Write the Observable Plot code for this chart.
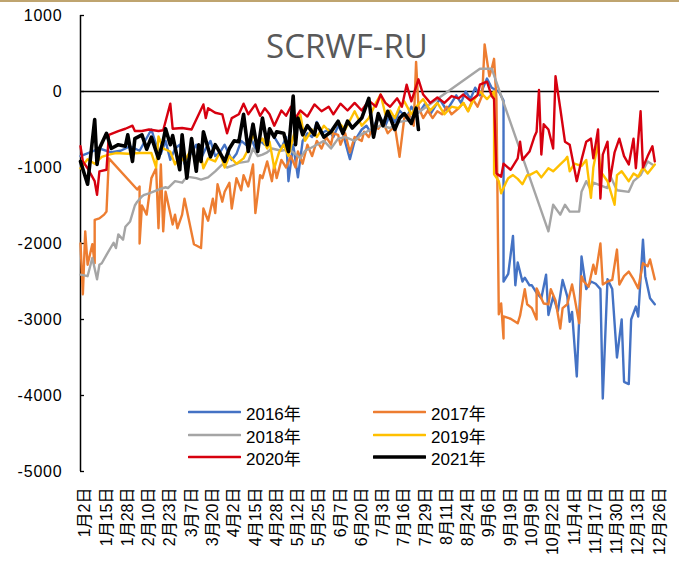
<!DOCTYPE html>
<html>
<head>
<meta charset="utf-8">
<script src="https://cdn.jsdelivr.net/npm/d3@7"></script>
<script src="https://cdn.jsdelivr.net/npm/@observablehq/plot@0.6"></script>
<style>
  html, body { margin: 0; padding: 0; background: #fff; }
  #wrap { position: relative; width: 679px; height: 561px; overflow: hidden; border-top: 2px solid #BFA46F; box-sizing: border-box; }
  #chart { position: absolute; left: 0; top: -2px; }
  #title { position: absolute; left: 0; width: 694px; top: 27px; text-align: center; font-family: "Open Sans", sans-serif; font-size: 33px; line-height: 33px; color: #595959; }
  .leg { position: absolute; height: 20px; display: flex; align-items: center; font-family: "Liberation Sans", "Noto Sans CJK SC", sans-serif; font-size: 17px; color: #000; white-space: nowrap; }
  .leg svg { margin-right: 5px; }
  [aria-label="y-axis tick label"] text { letter-spacing: 0.8px; }
</style>
</head>
<body>
<div id="wrap">
  <div id="chart"></div>
  <div id="title"></div>
  <div id="legend"></div>
</div>
<script>
const chartTitle = "SCRWF-RU";
const years = ["2016年", "2017年", "2018年", "2019年", "2020年", "2021年"];
const colors = ["#4472C4", "#ED7D31", "#A5A5A5", "#FFC000", "#D7000F", "#000000"];
const xLabels = ["1月2日","1月15日","1月28日","2月10日","2月23日","3月7日","3月20日","4月2日","4月15日","4月28日","5月12日","5月25日","6月7日","6月20日","7月3日","7月16日","7月29日","8月11日","8月24日","9月6日","9月19日","10月9日","10月22日","11月4日","11月17日","11月30日","12月13日","12月26日"];
const xLabelIdx = [2,11,20,29,38,47,56,65,74,83,92,101,110,119,128,137,146,155,164,173,182,191,200,209,218,227,236,245];
const yTicks = [1000, 0, -1000, -2000, -3000, -4000, -5000];

// [trading-day index, value]
const s2016 = [[0,-850],[4,-800],[8,-750],[13,-800],[17,-780],[21,-720],[25,-780],[30,-500],[32,-700],[34,-820],[36,-650],[38,-900],[40,-750],[42,-700],[44,-950],[47,-800],[49,-700],[51,-880],[53,-750],[55,-650],[57,-850],[59,-800],[61,-700],[64,-900],[66,-820],[68,-650],[70,-700],[72,-600],[74,-750],[76,-650],[78,-700],[80,-500],[83,-650],[85,-750],[87,-600],[88,-1180],[90,-700],[92,-1130],[94,-650],[96,-550],[98,-600],[100,-400],[102,-550],[105,-500],[107,-600],[109,-450],[111,-550],[114,-890],[116,-650],[119,-500],[121,-450],[123,-550],[125,-400],[127,-350],[129,-450],[131,-300],[133,-400],[135,-250],[138,-350],[140,-200],[142,-300],[144,-250],[146,-150],[148,-300],[150,-200],[152,-100],[155,-250],[157,-150],[159,-50],[161,-150],[163,0],[165,-100],[167,50],[169,-50],[172,170],[174,50],[177,0],[179,-120],[179,-2500],[181,-2400],[183,-1900],[184,-2550],[185,-2250],[187,-2500],[188,-2450],[190,-2550],[191,-2550],[193,-2650],[195,-2720],[197,-2410],[198,-2940],[200,-2700],[202,-2890],[204,-2480],[206,-2700],[207,-3030],[208,-2900],[210,-3750],[211,-3000],[212,-2170],[214,-2600],[216,-2500],[218,-2530],[220,-2600],[221,-4040],[223,-2470],[225,-2600],[227,-3500],[229,-3000],[230,-3820],[232,-3850],[233,-3000],[235,-2830],[236,-2960],[238,-1950],[239,-2430],[241,-2720],[243,-2800]];
const s2017 = [[0,-2000],[1,-2670],[2,-1840],[3,-2280],[5,-2010],[6,-2260],[6,-1690],[8,-1670],[10,-1620],[11,-1580],[12,-880],[24,-1290],[25,-1250],[25,-2000],[26,-1500],[28,-1620],[30,-1140],[32,-1010],[33,-1800],[34,-960],[35,-1840],[36,-1320],[39,-1750],[40,-1620],[41,-1800],[43,-1620],[44,-1410],[46,-1710],[48,-2010],[51,-2060],[52,-1540],[54,-1700],[56,-1410],[57,-1600],[58,-1220],[60,-1450],[61,-1320],[63,-1200],[64,-1540],[66,-1140],[68,-1300],[69,-1100],[71,-1250],[73,-960],[74,-1600],[76,-1100],[77,-1140],[79,-920],[81,-1180],[82,-960],[83,-1140],[85,-900],[87,-1000],[89,-850],[91,-1000],[92,-790],[94,-950],[96,-700],[98,-850],[100,-650],[102,-750],[104,-600],[106,-700],[107,-550],[109,-570],[110,-700],[112,-550],[114,-800],[116,-600],[119,-650],[120,-530],[122,-600],[124,-450],[126,-490],[128,-400],[130,-550],[133,-450],[135,-860],[137,-350],[139,-300],[141,-450],[142,390],[143,-200],[145,-350],[147,-250],[149,-350],[151,-260],[153,-300],[155,-200],[157,-300],[160,-220],[162,-150],[164,-260],[166,-100],[168,-200],[170,-50],[171,620],[173,200],[174,300],[175,430],[176,-100],[177,-2930],[178,-2790],[179,-3250],[179,-2960],[182,-2990],[185,-3050],[186,-2950],[188,-2600],[189,-2800],[191,-2850],[193,-3000],[193,-2590],[196,-2790],[198,-2800],[199,-2600],[201,-2750],[203,-3120],[204,-2850],[206,-2800],[208,-2540],[209,-2700],[211,-3050],[212,-2430],[213,-2500],[215,-2570],[217,-2280],[218,-2400],[220,-2000],[221,-2540],[223,-2500],[225,-2480],[227,-2080],[228,-2540],[230,-2430],[232,-2370],[234,-2470],[236,-2590],[238,-2260],[240,-2300],[241,-2210],[243,-2470]];
const s2018 = [[0,-2410],[3,-2430],[5,-2190],[7,-2470],[8,-2280],[9,-2260],[11,-2150],[14,-1990],[15,-2060],[16,-1880],[18,-1950],[19,-1780],[21,-1710],[23,-1500],[24,-1450],[26,-1380],[27,-1360],[29,-1340],[33,-1290],[36,-1260],[37,-1270],[40,-1180],[43,-1200],[45,-1120],[49,-1140],[51,-1160],[54,-1130],[57,-1050],[60,-960],[62,-1000],[64,-980],[67,-940],[71,-920],[73,-750],[75,-850],[77,-830],[79,-800],[81,-750],[85,-780],[88,-760],[90,-800],[93,-880],[95,-780],[97,-750],[100,-700],[103,-650],[106,-750],[109,-620],[112,-600],[116,-650],[119,-560],[123,-500],[127,-450],[131,-480],[135,-400],[139,-380],[141,-320],[169,300],[174,300],[198,-1840],[200,-1490],[203,-1620],[205,-1490],[207,-1580],[211,-1580],[212,-1320],[214,-1180],[216,-1300],[217,-1200],[223,-1270],[224,-1100],[227,-1300],[232,-1320],[234,-1180],[237,-1100],[240,-920],[242,-960]];
const s2019 = [[0,-1010],[3,-890],[6,-950],[9,-860],[12,-830],[15,-810],[20,-820],[25,-810],[30,-810],[32,-1000],[33,-590],[35,-750],[38,-790],[40,-960],[42,-850],[44,-920],[47,-750],[49,-960],[51,-850],[52,-1010],[54,-880],[57,-920],[59,-800],[61,-1000],[63,-850],[66,-950],[69,-880],[71,-760],[73,-570],[75,-700],[77,-620],[79,-750],[80,-660],[82,-1010],[84,-800],[86,-700],[88,-850],[90,-600],[93,-300],[95,-650],[98,-500],[100,-600],[103,-450],[106,-550],[109,-400],[112,-500],[116,-260],[119,-450],[122,-350],[125,-150],[127,-40],[129,-300],[131,-250],[133,-350],[135,-200],[137,-130],[140,-300],[142,-200],[145,-100],[148,-250],[151,-150],[154,-300],[157,-200],[160,-220],[162,-150],[164,-260],[166,-130],[169,0],[172,-100],[175,0],[175,-1090],[177,-1180],[178,-1340],[180,-1200],[181,-1140],[183,-1100],[185,-1150],[187,-1220],[189,-1100],[190,-1100],[193,-1050],[195,-1130],[198,-1010],[200,-1050],[203,-960],[205,-900],[206,-860],[207,-1050],[209,-950],[212,-980],[214,-900],[216,-1400],[217,-1000],[219,-680],[220,-1050],[223,-1180],[226,-1490],[227,-1100],[229,-1050],[232,-1180],[234,-1080],[236,-1120],[238,-1000],[240,-1080],[242,-1000],[243,-960]];
const s2020 = [[0,-720],[1,-920],[3,-1010],[6,-1180],[7,-1360],[8,-1050],[11,-1030],[12,-570],[16,-520],[19,-490],[22,-450],[23,-520],[26,-520],[29,-500],[33,-520],[35,-510],[38,-160],[39,-490],[43,-480],[47,-500],[52,-170],[53,-350],[54,-220],[57,-280],[60,-300],[62,-550],[64,-350],[67,-300],[69,-160],[71,-300],[74,-170],[76,-320],[78,-220],[80,-300],[82,-450],[85,-250],[87,-320],[89,-200],[91,-350],[93,-250],[96,-330],[99,-170],[102,-260],[105,-200],[107,-300],[110,-160],[113,-250],[116,-150],[119,-250],[122,-120],[125,-200],[127,-40],[129,-150],[131,-200],[134,-90],[136,-200],[138,90],[140,-130],[143,160],[145,-40],[148,-150],[151,-80],[154,-150],[157,-60],[160,-90],[162,-40],[165,-120],[168,-50],[169,90],[172,130],[174,-60],[175,-100],[176,-1080],[178,-1120],[179,-950],[182,-1030],[185,-880],[186,-660],[187,-900],[190,-790],[192,-600],[193,-530],[194,20],[195,-830],[196,-430],[198,-500],[200,-750],[201,200],[203,-220],[205,-660],[207,-700],[210,-1180],[212,-900],[214,-660],[216,-620],[217,-880],[219,-500],[220,-1410],[221,-830],[223,-660],[224,-1180],[226,-800],[228,-620],[230,-850],[232,-960],[234,-620],[235,-1010],[237,-260],[238,-1000],[240,-850],[242,-720],[243,-920]];
const s2021 = [[0,-920],[3,-1220],[6,-370],[7,-960],[8,-750],[11,-550],[13,-750],[16,-700],[19,-720],[20,-570],[22,-920],[23,-620],[26,-570],[28,-760],[30,-600],[33,-880],[35,-650],[36,-490],[38,-700],[39,-580],[42,-1030],[43,-570],[45,-1140],[47,-620],[49,-1050],[50,-700],[51,-920],[52,-530],[55,-860],[57,-700],[58,-750],[61,-920],[63,-750],[65,-650],[67,-660],[69,-300],[71,-790],[73,-430],[75,-790],[77,-350],[79,-700],[80,-490],[82,-600],[83,-530],[86,-550],[88,-790],[90,-60],[91,-700],[92,-350],[94,-570],[96,-450],[99,-570],[100,-420],[103,-600],[106,-530],[109,-390],[111,-550],[113,-390],[115,-480],[119,-350],[122,-90],[124,-600],[126,-290],[128,-450],[130,-260],[133,-500],[135,-350],[137,-290],[140,-420],[142,-220],[143,-500]];

const series = [s2016, s2017, s2018, s2019, s2020, s2021];
const widths = [2.4, 2.4, 2.4, 2.4, 2.4, 3.6];
const table = years.flatMap((yr, k) => series[k].map(([x, v]) => ({year: yr, x, v})));
const labelOf = new Map(xLabelIdx.map((d, i) => [d, xLabels[i]]));

const fontStack = "'Liberation Sans', Arial, 'Noto Sans CJK SC', sans-serif";

const chart = Plot.plot({
  width: 679,
  height: 561,
  marginLeft: 80,
  marginRight: 20,
  marginTop: 15,
  marginBottom: 90,
  x: {domain: [0, 245], label: null},
  y: {domain: [-5000, 1000], label: null},
  style: {fontFamily: fontStack, fontSize: "16px", color: "#000", background: "transparent", overflow: "visible"},
  marks: [
    Plot.axisY({ticks: yTicks, tickSize: 0, tickPadding: 18, fontSize: 16, label: null, tickFormat: d => String(d)}),
    Plot.axisY({ticks: yTicks, tickSize: 4, text: null, label: null, dx: 4, stroke: "#000", strokeWidth: 1.3}),
    Plot.axisX({ticks: xLabelIdx, tickFormat: d => labelOf.get(d), tickRotate: -90, tickSize: 0, tickPadding: 16, fontSize: 16, label: null}),
    Plot.ruleX([0], {stroke: "#000", strokeWidth: 1.5}),
    Plot.ruleY([0], {stroke: "#000", strokeWidth: 1.5}),
    ...years.map((yr, k) => Plot.line(table.filter(d => d.year === yr), {
      x: "x", y: "v", stroke: colors[k], strokeWidth: widths[k], strokeLinejoin: "round", strokeLinecap: "round"
    }))
  ]
});
document.getElementById("chart").appendChild(chart);
document.getElementById("title").textContent = chartTitle;

// legend
const legPos = [[188, 412], [373, 412], [188, 435], [373, 435], [188, 457], [373, 457]];
const legend = document.getElementById("legend");
years.forEach((yr, k) => {
  const [lx, ly] = legPos[k];
  const div = document.createElement("div");
  div.className = "leg";
  div.style.left = lx + "px";
  div.style.top = (ly - 10 - 2) + "px";
  div.innerHTML = `<svg width="53" height="8"><line x1="1" y1="4" x2="52" y2="4" stroke="${colors[k]}" stroke-width="${k === 5 ? 3.6 : 2.6}" stroke-linecap="round"/></svg><span>${yr}</span>`;
  legend.appendChild(div);
});
</script>
</body>
</html>
